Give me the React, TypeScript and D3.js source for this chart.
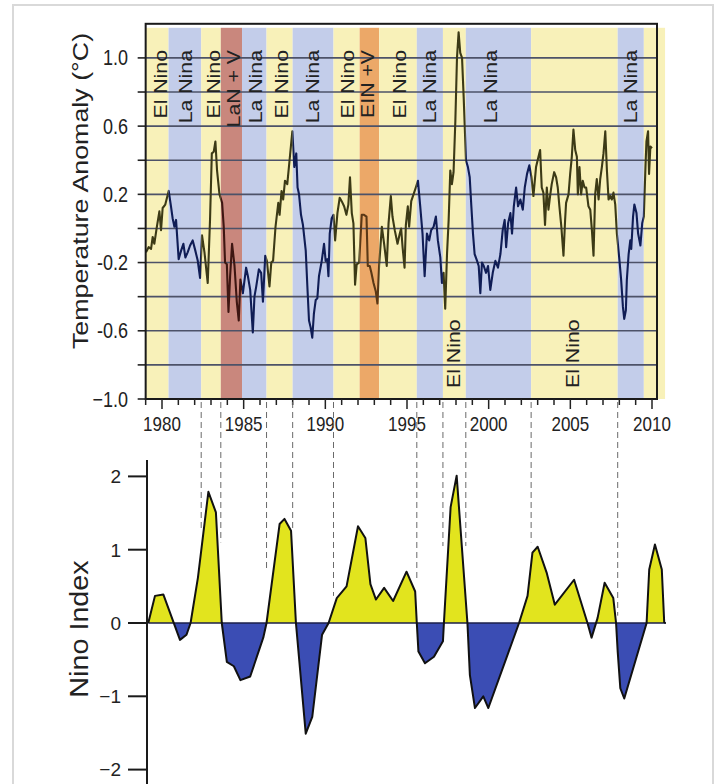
import React from 'react';
import * as d3 from 'd3';

// ---------- DATA ----------
const bandStart = [1979.0, 1980.4, 1982.4, 1983.6, 1984.9, 1986.4, 1988.0, 1990.5, 1992.1, 1993.3, 1995.6, 1997.2, 1998.6, 2002.6, 2007.9, 2009.5];
const bandEnd = [1980.4, 1982.4, 1983.6, 1984.9, 1986.4, 1988.0, 1990.5, 1992.1, 1993.3, 1995.6, 1997.2, 1998.6, 2002.6, 2007.9, 2009.5, 2010.8];
const bandKind = ['Y', 'B', 'Y', 'R', 'B', 'Y', 'B', 'Y', 'O', 'Y', 'B', 'Y', 'B', 'Y', 'B', 'Y'];
const bandLabel = ['El Nino', 'La Nina', 'El Nino', 'LaN + V', 'La Nina', 'El Nino', 'La Nina', 'El Nino', 'EIN +V', 'El Nino', 'La Nina', 'El Nino', 'La Nina', 'El Nino', 'La Nina', ''];
const bandLabelAt = [1979.88, 1981.41, 1983.13, 1984.36, 1985.7, 1987.3, 1989.2, 1991.35, 1992.58, 1994.54, 1996.38, 1997.85, 2000.12, 2005.15, 2008.71, 2010.0];
const bandLabelTop = [true, true, true, true, true, true, true, true, true, true, true, false, true, false, true, true];

const tempAnomaly: [number, number][] = [
  [1979.02, -0.14], [1979.18, -0.11], [1979.33, -0.12], [1979.43, -0.05], [1979.53, -0.09], [1979.67, 0.0], [1979.84, 0.10], [1979.94, -0.01],
  [1980.04, 0.12], [1980.2, 0.14], [1980.41, 0.22], [1980.55, 0.13], [1980.65, 0.06], [1980.76, 0.01], [1980.86, 0.05], [1981.02, -0.18],
  [1981.17, -0.13], [1981.31, -0.09], [1981.43, -0.17], [1981.57, -0.14], [1981.72, -0.10], [1981.88, -0.07], [1982.04, -0.13], [1982.19, -0.19],
  [1982.33, -0.29], [1982.45, -0.04], [1982.6, -0.14], [1982.8, -0.32], [1982.94, 0.05], [1983.05, 0.44], [1983.17, 0.45], [1983.27, 0.51],
  [1983.37, 0.34], [1983.52, 0.20], [1983.68, 0.15], [1983.78, 0.01], [1983.86, -0.20], [1983.97, -0.21], [1984.07, -0.49], [1984.17, -0.28],
  [1984.29, -0.09], [1984.44, -0.22], [1984.58, -0.43], [1984.7, -0.54], [1984.8, -0.30], [1984.95, -0.38], [1985.15, -0.23], [1985.26, -0.28],
  [1985.4, -0.36], [1985.56, -0.61], [1985.66, -0.40], [1985.77, -0.34], [1985.93, -0.24], [1986.07, -0.26], [1986.18, -0.43], [1986.32, -0.16],
  [1986.42, -0.19], [1986.58, -0.34], [1986.69, -0.20], [1986.8, -0.19], [1986.95, 0.01], [1987.12, 0.15], [1987.2, 0.08], [1987.32, 0.22],
  [1987.42, 0.17], [1987.53, 0.28], [1987.67, 0.26], [1987.81, 0.40], [1987.98, 0.57], [1988.1, 0.36], [1988.22, 0.44], [1988.3, 0.24],
  [1988.39, 0.20], [1988.51, 0.08], [1988.63, 0.02], [1988.8, -0.13], [1988.9, -0.34], [1989.0, -0.54], [1989.1, -0.58], [1989.2, -0.64],
  [1989.3, -0.50], [1989.41, -0.42], [1989.51, -0.41], [1989.61, -0.28], [1989.78, -0.19], [1989.92, -0.09], [1990.02, -0.19], [1990.12, -0.18],
  [1990.19, -0.28], [1990.27, -0.03], [1990.39, 0.06], [1990.5, 0.08], [1990.6, -0.07], [1990.74, 0.09], [1990.88, 0.18], [1991.0, 0.16],
  [1991.15, 0.13], [1991.29, 0.08], [1991.41, 0.14], [1991.51, 0.30], [1991.62, 0.09], [1991.72, 0.03], [1991.82, -0.33], [1991.92, -0.21],
  [1992.07, -0.20], [1992.23, 0.08], [1992.37, 0.08], [1992.52, 0.07], [1992.6, -0.22], [1992.72, -0.22], [1992.82, -0.26], [1992.95, -0.32],
  [1993.09, -0.37], [1993.19, -0.44], [1993.29, -0.22], [1993.46, 0.01], [1993.6, -0.09], [1993.76, -0.22], [1993.87, 0.03], [1994.01, 0.19],
  [1994.11, 0.07], [1994.25, -0.01], [1994.42, -0.09], [1994.56, -0.03], [1994.64, 0.0], [1994.73, -0.11], [1994.85, -0.23], [1994.93, 0.02],
  [1995.05, 0.13], [1995.13, 0.01], [1995.26, 0.16], [1995.4, 0.20], [1995.54, 0.24], [1995.67, 0.28], [1995.81, 0.13], [1995.95, -0.03],
  [1996.08, -0.28], [1996.22, -0.03], [1996.36, -0.07], [1996.48, -0.01], [1996.63, 0.01], [1996.77, 0.07], [1996.89, -0.07], [1997.04, -0.17],
  [1997.14, -0.32], [1997.24, -0.26], [1997.34, -0.47], [1997.45, -0.15], [1997.55, 0.05], [1997.65, 0.34], [1997.75, 0.26], [1997.85, 0.33],
  [1997.96, 0.63], [1998.06, 1.0], [1998.16, 1.15], [1998.26, 1.03], [1998.37, 1.0], [1998.47, 0.77], [1998.61, 0.40], [1998.73, 0.36],
  [1998.84, 0.30], [1998.94, 0.13], [1999.04, -0.03], [1999.14, -0.15], [1999.29, -0.19], [1999.39, -0.22], [1999.49, -0.38], [1999.59, -0.20],
  [1999.7, -0.22], [1999.84, -0.26], [1999.96, -0.22], [2000.1, -0.36], [2000.25, -0.26], [2000.41, -0.19], [2000.57, -0.23], [2000.72, -0.15],
  [2000.86, -0.01], [2000.98, 0.05], [2001.07, -0.11], [2001.19, 0.03], [2001.33, 0.09], [2001.43, -0.03], [2001.54, 0.13], [2001.68, 0.24],
  [2001.8, 0.13], [2001.94, 0.17], [2002.09, 0.11], [2002.21, 0.24], [2002.35, 0.32], [2002.49, 0.37], [2002.62, 0.30], [2002.74, 0.19],
  [2002.9, 0.36], [2003.05, 0.42], [2003.15, 0.46], [2003.25, 0.24], [2003.35, 0.21], [2003.45, 0.02], [2003.56, 0.24], [2003.66, 0.11],
  [2003.76, 0.19], [2003.86, 0.26], [2004.01, 0.33], [2004.13, 0.30], [2004.23, 0.24], [2004.33, 0.13], [2004.45, 0.01], [2004.58, -0.16],
  [2004.68, 0.05], [2004.74, 0.15], [2004.89, 0.20], [2004.99, 0.32], [2005.09, 0.42], [2005.19, 0.58], [2005.3, 0.46], [2005.4, 0.42],
  [2005.46, 0.20], [2005.56, 0.36], [2005.66, 0.20], [2005.76, 0.28], [2005.87, 0.24], [2005.97, 0.24], [2006.11, 0.13], [2006.22, 0.11],
  [2006.32, -0.01], [2006.42, -0.16], [2006.52, 0.20], [2006.62, 0.29], [2006.73, 0.17], [2006.83, 0.29], [2006.93, 0.36], [2007.03, 0.44],
  [2007.14, 0.57], [2007.24, 0.34], [2007.34, 0.17], [2007.44, 0.19], [2007.54, 0.17], [2007.64, 0.21], [2007.75, 0.14], [2007.85, -0.03],
  [2008.01, -0.19], [2008.11, -0.30], [2008.22, -0.46], [2008.3, -0.53], [2008.4, -0.48], [2008.46, -0.30], [2008.57, -0.15], [2008.67, -0.07],
  [2008.73, -0.12], [2008.84, 0.07], [2008.92, 0.14], [2009.05, 0.09], [2009.15, -0.03], [2009.29, -0.10], [2009.4, 0.03], [2009.5, 0.07],
  [2009.6, 0.36], [2009.66, 0.51], [2009.76, 0.57], [2009.82, 0.32], [2009.9, 0.48], [2010.0, 0.47],
];

const ninoIndex: [number, number][] = [
  [1979.16, 0], [1979.57, 0.37], [1980.08, 0.39], [1981.1, -0.23], [1981.5, -0.16], [1981.75, 0], [1982.2, 0.62], [1982.84, 1.79],
  [1983.3, 1.51], [1983.66, 0], [1983.97, -0.53], [1984.4, -0.59], [1984.8, -0.78], [1985.4, -0.73], [1986.2, -0.2], [1986.4, 0],
  [1987.2, 1.35], [1987.5, 1.42], [1987.9, 1.26], [1988.2, 0], [1988.8, -1.51], [1989.2, -1.28], [1989.8, -0.16], [1990.2, 0],
  [1990.7, 0.34], [1991.3, 0.5], [1992.0, 1.32], [1992.45, 1.16], [1992.76, 0.53], [1993.1, 0.32], [1993.6, 0.48], [1994.15, 0.3],
  [1994.97, 0.7], [1995.5, 0.43], [1995.6, 0], [1995.7, -0.39], [1996.1, -0.55], [1996.65, -0.46], [1997.2, -0.25], [1997.26, 0],
  [1997.67, 1.58], [1998.04, 2.01], [1998.7, 0], [1998.85, -0.71], [1999.16, -1.16], [1999.67, -1.0], [1999.98, -1.16], [2001.86, 0],
  [2002.38, 0.37], [2002.68, 0.96], [2003.0, 1.04], [2003.56, 0.68], [2004.05, 0.25], [2005.23, 0.59], [2006.05, 0], [2006.3, -0.2],
  [2006.67, 0.07], [2007.1, 0.55], [2007.63, 0.34], [2007.8, 0], [2007.9, -0.39], [2008.06, -0.89], [2008.3, -1.03], [2009.67, 0],
  [2009.83, 0.73], [2010.18, 1.07], [2010.6, 0.73], [2010.75, 0],
];

const dashYears = [1982.4, 1983.6, 1986.4, 1988.0, 1990.5, 1995.6, 1997.2, 1998.6, 2002.6, 2007.9];
const dashEnds = [1.25, 1.1, 0.74, 1.29, 0.37, 0.56, 1.05, 1.05, 1.1, 0.1];

const topGridValues = [1.0, 0.8, 0.6, 0.4, 0.2, 0.0, -0.2, -0.4, -0.6, -0.8];
const topTickValues = [1.0, 0.6, 0.2, -0.2, -0.6, -1.0];
const topTickLabels = ['1.0', '0.6', '0.2', '-0.2', '-0.6', '\u22121.0'];
const yearTicks = [1980, 1985, 1990, 1995, 2000, 2005, 2010];
const botTickValues = [2, 1, 0, -1, -2];
const botTickLabels = ['2', '1', '0', '\u22121', '\u22122'];

// ---------- STYLE ----------
const FONT = '"Liberation Sans", Arial, Helvetica, sans-serif';
const bandFill: Record<string, string> = { Y: '#f8f1b9', B: '#c3cdea', R: '#c9877d', O: '#eca868' };
const lineColor: Record<string, string> = { Y: '#3c3a16', B: '#101d55', R: '#3e1612', O: '#5a3816' };

export default function App() {
  const x = d3.scaleLinear().domain([1980, 2010]).range([162, 652]);
  const yT = d3.scaleLinear().domain([-1, 1.2]).range([399, 23.8]);
  const yB = d3.scaleLinear().domain([-2, 2]).range([769.6, 476.4]);

  const plotL = x(1979);
  const plotR = 657;
  const plotTop = yT(1.2);
  const plotBot = yT(-1);

  const tempLine = d3.line<[number, number]>().x(d => x(d[0])).y(d => yT(d[1]))(tempAnomaly) || '';
  const ninoArea = d3.area<[number, number]>().x(d => x(d[0])).y0(yB(0)).y1(d => yB(d[1]))(ninoIndex) || '';
  const ninoLine = d3.line<[number, number]>().x(d => x(d[0])).y(d => yB(d[1]))(ninoIndex) || '';
  const nx0 = x(ninoIndex[0][0]);
  const nx1 = x(ninoIndex[ninoIndex.length - 1][0]);

  const minorYears = d3.range(1979, 2011);

  return (
    <svg width={715} height={784} style={{ position: 'absolute', left: 0, top: 0, display: 'block', background: '#fff' }}>
      <defs>
        {bandStart.map((s, i) => (
          <clipPath id={`bclip${i}`} key={i}>
            <rect x={x(s)} y={0} width={x(bandEnd[i]) - x(s)} height={420} />
          </clipPath>
        ))}
        <clipPath id="posClip"><rect x={0} y={0} width={715} height={yB(0)} /></clipPath>
        <clipPath id="negClip"><rect x={0} y={yB(0)} width={715} height={784 - yB(0)} /></clipPath>
      </defs>

      {/* outer frame */}
      <rect x={13} y={5} width={700} height={800} fill="none" stroke="#d9d9d9" strokeWidth={2} />

      {/* ---------- TOP CHART ---------- */}
      {bandStart.map((s, i) => (
        <rect key={`b${i}`} x={x(s)} y={plotTop + 4} width={x(bandEnd[i]) - x(s)} height={plotBot - plotTop - 4} fill={bandFill[bandKind[i]]} />
      ))}

      {topGridValues.map(v => (
        <line key={`g${v}`} x1={plotL} x2={plotR} y1={yT(v)} y2={yT(v)} stroke="#4d5268" strokeWidth={1.6} />
      ))}
      {topGridValues.concat([-1.0]).map(v => (
        <line key={`t${v}`} x1={plotL - 8} x2={plotL} y1={yT(v)} y2={yT(v)} stroke="#222" strokeWidth={1.6} />
      ))}

      {bandStart.map((s, i) => (
        <path key={`l${i}`} d={tempLine} fill="none" stroke={lineColor[bandKind[i]]} strokeWidth={2.1} strokeLinejoin="round" clipPath={`url(#bclip${i})`} />
      ))}

      {/* band labels */}
      {bandLabel.map((lab, i) => lab ? (
        <text key={`bl${i}`}
          transform={`translate(${x(bandLabelAt[i])},${bandLabelTop[i] ? 50 : 388}) rotate(-90) scale(1.15,1)`}
          textAnchor={bandLabelTop[i] ? 'end' : 'start'} dominantBaseline="central"
          fontFamily={FONT} fontSize={18.5} fill="#222">{lab}</text>
      ) : null)}

      {/* frame */}
      <rect x={plotL} y={plotTop} width={plotR - plotL} height={plotBot - plotTop} fill="none" stroke="#1a1a1a" strokeWidth={2} />

      {/* y tick labels */}
      {topTickValues.map((v, i) => (
        <text key={`yl${v}`} transform={`translate(128,${yT(v) + 7.5}) scale(1,1.2)`} textAnchor="end" fontFamily={FONT} fontSize={18} fill="#222">{topTickLabels[i]}</text>
      ))}

      {/* x ticks */}
      {minorYears.map(yr => (
        <line key={`xm${yr}`} x1={x(yr)} x2={x(yr)} y1={plotBot} y2={plotBot + (yr % 5 === 0 ? 10 : 6)} stroke="#222" strokeWidth={1.5} />
      ))}
      {yearTicks.map(yr => (
        <text key={`xl${yr}`} transform={`translate(${x(yr)},431) scale(1,1.2)`} textAnchor="middle" fontFamily={FONT} fontSize={17} fill="#222">{yr}</text>
      ))}

      {/* y title */}
      <text transform={`translate(80,191) rotate(-90) scale(1.22,1)`} textAnchor="middle" dominantBaseline="central" fontFamily={FONT} fontSize={22} fill="#222">Temperature Anomaly (°C)</text>

      {/* dashed connectors */}
      {dashYears.map((yr, i) => (
        <line key={`d${i}`} x1={x(yr)} x2={x(yr)} y1={plotBot + 3} y2={yB(dashEnds[i])} stroke="#6a6a6a" strokeWidth={1} strokeDasharray="6,4" />
      ))}

      {/* ---------- BOTTOM CHART ---------- */}
      <path d={ninoArea} fill="#e2e41e" clipPath="url(#posClip)" />
      <path d={ninoArea} fill="#3b4db4" clipPath="url(#negClip)" />
      <line x1={nx0} x2={x(2010.85)} y1={yB(0)} y2={yB(0)} stroke="#1b1f4a" strokeWidth={1.6} />
      <path d={ninoLine} fill="none" stroke="#111" strokeWidth={2} strokeLinejoin="round" />
      <line x1={nx1} x2={x(2010.85)} y1={yB(0)} y2={yB(0)} stroke="#111" strokeWidth={1.6} />

      <line x1={147} x2={147} y1={460} y2={784} stroke="#1a1a1a" strokeWidth={2} />
      {botTickValues.map((v, i) => (
        <g key={`bt${v}`}>
          <line x1={128} x2={147} y1={yB(v)} y2={yB(v)} stroke="#1a1a1a" strokeWidth={2} />
          <text x={121} y={yB(v) + 6.8} textAnchor="end" fontFamily={FONT} fontSize={19} fill="#222">{botTickLabels[i]}</text>
        </g>
      ))}
      <text transform={`translate(80,629) rotate(-90) scale(1.15,1)`} textAnchor="middle" dominantBaseline="central" fontFamily={FONT} fontSize={25} fill="#222">Nino Index</text>
    </svg>
  );
}
